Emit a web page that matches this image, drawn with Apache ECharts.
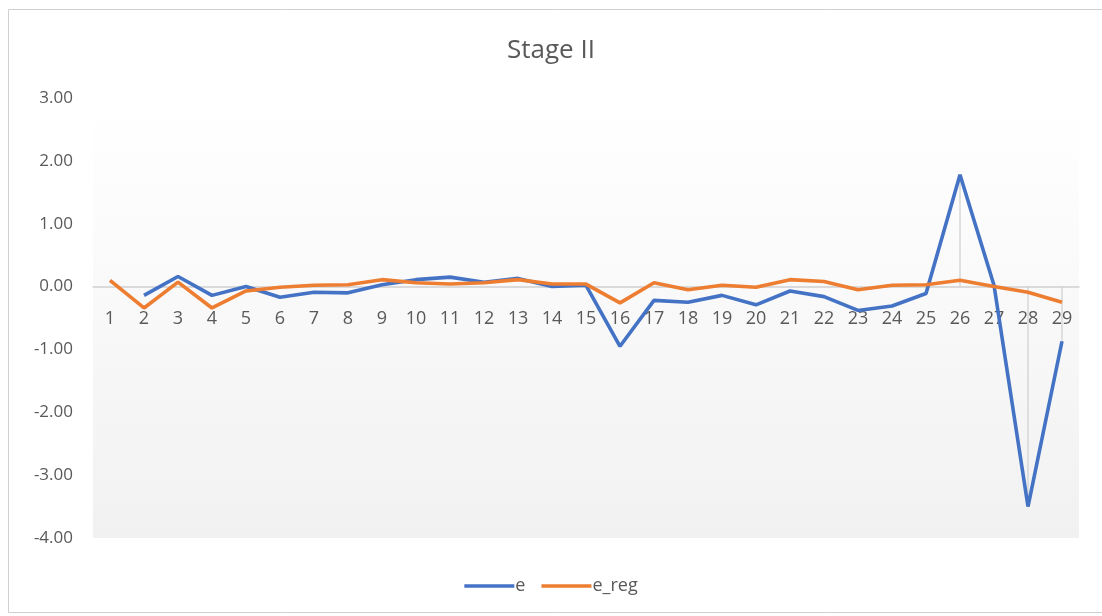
<!DOCTYPE html>
<html>
<head>
<meta charset="utf-8">
<script src="https://cdn.jsdelivr.net/npm/echarts@6/dist/echarts.min.js"></script>
<style>
  html, body { margin: 0; padding: 0; background: #fff; }
  #chart { width: 1102px; height: 616px; }
</style>
</head>
<body>
<div id="chart"></div>
<script>
// Observation index 1..29
const categories = ['1','2','3','4','5','6','7','8','9','10','11','12','13','14','15',
  '16','17','18','19','20','21','22','23','24','25','26','27','28','29'];

// Residuals (first observation has no e value)
const eValues = [null, -0.14, 0.16, -0.14, 0.00, -0.17, -0.09, -0.10, 0.03, 0.11,
  0.15, 0.07, 0.13, 0.00, 0.02, -0.95, -0.22, -0.25, -0.14, -0.29,
  -0.07, -0.16, -0.38, -0.31, -0.11, 1.78, 0.02, -3.50, -0.87];

// Regression residuals
const eRegValues = [0.10, -0.34, 0.07, -0.34, -0.07, -0.01, 0.02, 0.03, 0.11, 0.06,
  0.04, 0.06, 0.11, 0.04, 0.04, -0.26, 0.06, -0.05, 0.02, -0.01,
  0.11, 0.08, -0.05, 0.02, 0.03, 0.10, 0.00, -0.09, -0.25];

// Observations marked with a vertical guide from zero to e
const flaggedObs = ['26', '28', '29'];

const yTicks = { min: -4, max: 3, interval: 1 };

const GRID = { left: 93, right: 23, top: 98, bottom: 78 };
const H = 616;
const plotH = H - GRID.top - GRID.bottom;
const zeroY = GRID.top + plotH * (yTicks.max / (yTicks.max - yTicks.min));
const xAxisOffset = -((H - GRID.bottom) - zeroY);

const chart = echarts.init(document.getElementById('chart'), null, { renderer: 'canvas' });
const FONT = '"Open Sans", "Noto Sans", sans-serif';

const guideData = flaggedObs.map(c => {
  const i = categories.indexOf(c);
  return [i, 0, eValues[i]];
});

chart.setOption({
  backgroundColor: '#ffffff',
  animation: false,
  title: {
    text: 'Stage II',
    left: 'center',
    top: 33,
    textStyle: { fontFamily: FONT, fontSize: 26, fontWeight: 'normal', color: '#595959' }
  },
  graphic: [{
    type: 'rect',
    shape: { x: 8.5, y: 9.5, width: 1100, height: 603 },
    style: { fill: null, stroke: '#d0d0d0', lineWidth: 1 },
    silent: true
  }],
  legend: {
    bottom: 16,
    left: 'center',
    itemWidth: 50,
    itemHeight: 3.5,
    itemGap: 16,
    icon: 'rect',
    textStyle: { fontFamily: FONT, fontSize: 18, color: '#595959', padding: [0, 0, 0, -4] },
    data: ['e', 'e_reg']
  },
  grid: {
    left: GRID.left,
    right: GRID.right,
    top: GRID.top,
    bottom: GRID.bottom,
    show: true,
    borderWidth: 0,
    backgroundColor: new echarts.graphic.LinearGradient(0, 0, 0, 1, [
      { offset: 0, color: '#ffffff' },
      { offset: 0.25, color: '#fcfcfc' },
      { offset: 1, color: '#f1f1f1' }
    ])
  },
  xAxis: {
    type: 'category',
    data: categories,
    boundaryGap: true,
    position: 'bottom',
    offset: xAxisOffset,
    axisLine: { onZero: false, lineStyle: { color: '#d0d0d0', width: 1.5 } },
    axisTick: { show: false },
    axisLabel: { fontFamily: FONT, fontSize: 18, color: '#595959', margin: 23, interval: 0 },
    splitLine: { show: false }
  },
  yAxis: {
    type: 'value',
    min: yTicks.min,
    max: yTicks.max,
    interval: yTicks.interval,
    axisLine: { show: false },
    axisTick: { show: false },
    splitLine: { show: false },
    axisLabel: {
      fontFamily: FONT, fontSize: 17, color: '#595959', margin: 20,
      formatter: v => v.toFixed(2)
    }
  },
  series: [
    {
      name: 'guide',
      type: 'custom',
      z: 1,
      silent: true,
      data: guideData,
      encode: { x: 0, y: [1, 2] },
      renderItem: (params, api) => {
        const p1 = api.coord([api.value(0), api.value(1)]);
        const p2 = api.coord([api.value(0), api.value(2)]);
        return {
          type: 'line',
          shape: { x1: p1[0], y1: p1[1], x2: p2[0], y2: p2[1] },
          style: { stroke: '#cfcfcf', lineWidth: 1.2 }
        };
      }
    },
    {
      name: 'e',
      type: 'line',
      z: 3,
      data: eValues,
      showSymbol: false,
      symbol: 'none',
      connectNulls: false,
      lineStyle: { color: '#4472c4', width: 3.6 },
      itemStyle: { color: '#4472c4' }
    },
    {
      name: 'e_reg',
      type: 'line',
      z: 4,
      data: eRegValues,
      showSymbol: false,
      symbol: 'none',
      lineStyle: { color: '#ed7d31', width: 3.6 },
      itemStyle: { color: '#ed7d31' }
    }
  ]
});
</script>
</body>
</html>
